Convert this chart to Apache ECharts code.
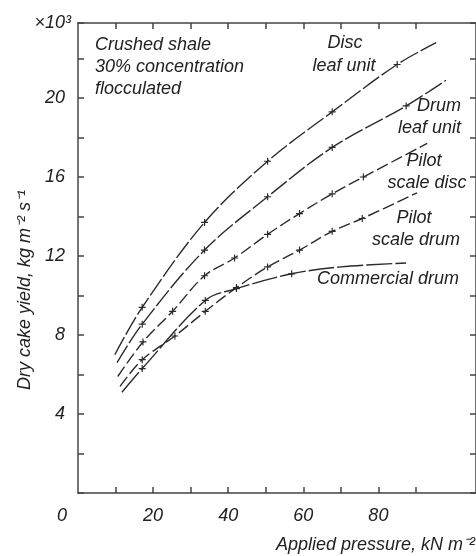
<!doctype html>
<html>
<head>
<meta charset="UTF-8">
<title>Dry cake yield</title>
<script src="https://cdn.jsdelivr.net/npm/echarts@6/dist/echarts.min.js"></script>
<style>
html,body{margin:0;padding:0;background:#fff;}
#main{width:476px;height:556px;}
</style>
</head>
<body>
<div id="main"></div>
<script>
var discLeaf = [[9.8,7.0],[17.1,9.4],[33.7,13.7],[50.5,16.8],[67.7,19.3],[85.0,21.7],[95.4,22.8]];
var discLeafMarked = [0,1,1,1,1,1,0];
var drumLeaf = [[10.4,6.6],[17.1,8.55],[33.7,12.3],[50.5,15.0],[67.7,17.5],[87.4,19.6],[98.0,20.9]];
var drumLeafMarked = [0,1,1,1,1,1,0];
var pilotDisc = [[10.6,5.9],[17.3,7.65],[25.2,9.2],[33.7,11.0],[41.7,11.9],[50.5,13.1],[59.0,14.15],[67.7,15.15],[76.0,16.0],[93.0,17.7]];
var pilotDiscMarked = [0,1,1,1,1,1,1,1,1,0];
var pilotDrum = [[11.2,5.4],[17.1,6.75],[25.8,7.95],[33.9,9.2],[42.2,10.4],[50.5,11.45],[59.0,12.3],[67.7,13.25],[75.7,13.9],[90.3,15.2]];
var pilotDrumMarked = [0,1,1,1,1,1,1,1,1,0];
var commercial = [[11.7,5.1],[17.1,6.3],[33.9,9.75],[42.2,10.35],[56.9,11.1],[70.0,11.45],[87.4,11.65]];
var commercialMarked = [0,1,1,1,1,0,0];

var xLabelValues = [0,20,40,60,80];
var xTickValues = [10,20,30,40,50,60,70,80,90];
var yLabelValues = [4,8,12,16,20];

var crossPath = 'path://M2.5,0h1v2.5h2.5v1h-2.5v2.5h-1v-2.5h-2.5v-1h2.5z';
var ink = '#2b2b2b';
var axisInk = '#444';
var font = 'Liberation Sans';

function buildData(pts, marked) {
	var out = [];
	for (var i = 0; i < pts.length; i++) {
		var item = { value: pts[i] };
		if (!marked[i]) item.symbol = 'none';
		out.push(item);
	}
	return out;
}

function curve(name, pts, marked, dash) {
	return {
		name: name,
		type: 'line',
		smooth: 0.35,
		symbol: crossPath,
		symbolSize: 7,
		showAllSymbol: true,
		itemStyle: { color: ink },
		lineStyle: { color: ink, width: 1.4, type: dash },
		data: buildData(pts, marked),
		silent: true
	};
}

function txt(x, y, s, align) {
	return {
		type: 'text', x: x, y: y,
		style: {
			text: s, fill: '#222', fontSize: 18, fontStyle: 'italic', fontFamily: font,
			align: align || 'left', verticalAlign: 'middle'
		}
	};
}

function frameAxis(extra) {
	var a = {
		type: 'value',
		splitLine: { show: false },
		axisLine: { show: true, onZero: false, lineStyle: { color: axisInk, width: 1.5 } },
		axisTick: { show: true, inside: true, length: 6, lineStyle: { color: axisInk, width: 1.5 } },
		axisLabel: { show: false }
	};
	for (var k in extra) a[k] = extra[k];
	return a;
}

var chart = echarts.init(document.getElementById('main'));
var option = {
	animation: false,
	backgroundColor: '#fff',
	grid: { left: 78, right: -3, top: 23, bottom: 63 },
	xAxis: [
		frameAxis({
			position: 'bottom', min: 0, max: 106, interval: 10,
			axisTick: { show: true, inside: true, length: 6, customValues: xTickValues, lineStyle: { color: axisInk, width: 1.5 } },
			axisLabel: {
				show: true, customValues: xLabelValues, margin: 14,
				color: '#222', fontSize: 18, fontStyle: 'italic', fontFamily: font,
				formatter: function (v) { return v === 0 ? '{z|0}' : String(v); },
				rich: { z: { padding: [0, 32, 0, 0], color: '#222', fontSize: 18, fontStyle: 'italic', fontFamily: font } }
			}
		}),
		frameAxis({
			position: 'top', min: 0, max: 106, interval: 10,
			axisTick: { show: true, inside: true, length: 6, customValues: xTickValues, lineStyle: { color: axisInk, width: 1.5 } }
		})
	],
	yAxis: [
		frameAxis({
			position: 'left', min: 0, max: 23.8, interval: 2,
			axisLabel: {
				show: true, customValues: yLabelValues, margin: 13,
				color: '#222', fontSize: 18, fontStyle: 'italic', fontFamily: font
			}
		}),
		frameAxis({ position: 'right', min: 0, max: 23.8, interval: 2 })
	],
	series: [
		curve('Disc leaf unit', discLeaf, discLeafMarked, [20, 3]),
		curve('Drum leaf unit', drumLeaf, drumLeafMarked, [20, 3]),
		curve('Pilot scale disc', pilotDisc, pilotDiscMarked, [12, 4]),
		curve('Pilot scale drum', pilotDrum, pilotDrumMarked, [12, 4]),
		curve('Commercial drum', commercial, commercialMarked, [26, 3])
	],
	graphic: [
		txt(71, 23, '×10³', 'right'),
		txt(95, 45, 'Crushed shale'),
		txt(95, 67, '30% concentration'),
		txt(95, 89, 'flocculated'),
		txt(345, 43, 'Disc', 'center'),
		txt(344, 66, 'leaf unit', 'center'),
		txt(461, 106, 'Drum', 'right'),
		txt(461, 128, 'leaf unit', 'right'),
		txt(424, 161, 'Pilot', 'center'),
		txt(427, 183, 'scale disc', 'center'),
		txt(414, 218, 'Pilot', 'center'),
		txt(416, 240, 'scale drum', 'center'),
		txt(388, 279, 'Commercial drum', 'center'),
		txt(475, 545, 'Applied pressure, kN m⁻²', 'right'),
		{
			type: 'text', x: 25, y: 290, rotation: Math.PI / 2,
			style: {
				text: 'Dry cake yield, kg m⁻² s⁻¹', fill: '#222', fontSize: 18, fontStyle: 'italic', fontFamily: font,
				align: 'center', verticalAlign: 'middle'
			}
		}
	]
};
chart.setOption(option);
</script>
</body>
</html>
